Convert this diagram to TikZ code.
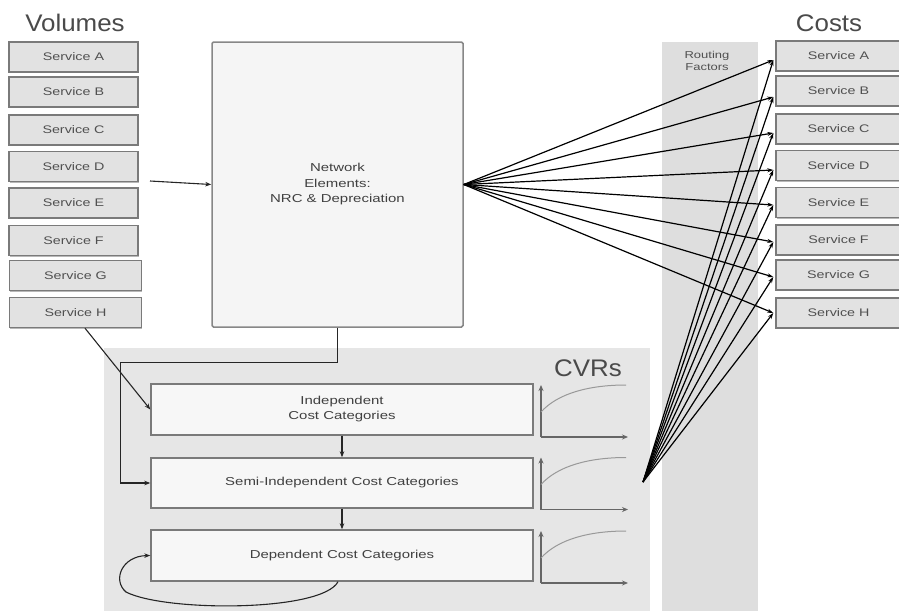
\documentclass[tikz,border=0pt]{standalone}
\usepackage{fontspec}
\usetikzlibrary{arrows.meta,shadows}
\setmainfont{Liberation Sans}
\newfontfamily\labfont[FakeStretch=1.3]{Liberation Sans}
\newfontfamily\titfont[FakeStretch=1.08]{Liberation Sans}
\definecolor{boxgray}{HTML}{E2E2E2}
\definecolor{edgegray}{HTML}{7A7A7A}
\definecolor{panelgray}{HTML}{E6E6E6}
\definecolor{colgray}{HTML}{DEDEDE}
\definecolor{txtgray}{HTML}{505050}
\definecolor{titgray}{HTML}{4A4A4A}
\begin{document}
\begin{tikzpicture}[x=1pt,y=-1pt,
  svc/.style={draw=edgegray,line width=1.4pt,fill=boxgray,minimum height=30pt,
    inner sep=0pt,text=txtgray,font=\labfont\fontsize{11}{13}\selectfont,
    drop shadow={shadow xshift=0.8pt,shadow yshift=-1.2pt,fill=gray!70,opacity=0.8}},
  catbox/.style={draw=edgegray,line width=1.4pt,fill=white!97!black,minimum width=382pt,
    inner sep=0pt,text=black!75,align=center,font=\labfont\fontsize{11.5}{15}\selectfont},
  title/.style={font=\titfont\fontsize{24}{26}\selectfont,text=titgray,inner sep=0pt},
  conn/.style={line width=1.1pt,draw=black!85,-{Stealth[length=6pt,width=4.5pt]}},
  fan/.style={line width=1.2pt,draw=black,-{Stealth[length=6pt,width=4pt]}},
  axis/.style={line width=1.4pt,draw=black!60,-{Stealth[length=6pt,width=5pt]}},
  growth/.style={line width=1pt,draw=black!40}]
\useasboundingbox (0,0) rectangle (899,611);

% shaded panels
\fill[colgray] (662,42) rectangle (758,611);
\fill[panelgray] (104,348) rectangle (650,611);

% titles
\node[title] (tvol) at (75,23) {Volumes};
\node[title] (tcost) at (829,23) {Costs};
\node[title] (tcvr) at (588,368) {CVRs};
\node[align=center,text=txtgray,inner sep=0pt,
  font=\labfont\fontsize{10}{12.5}\selectfont] (rf) at (707,61) {Routing\\Factors};

% volume services
\foreach \n/\y in {A/57,B/92,C/130,D/166.5,E/203,F/240.5}
  \node[svc,minimum width=129pt] (v\n) at (73.5,\y) {Service \n};
\foreach \n/\y in {G/275.5,H/312.5}
  \node[svc,minimum width=132pt] (v\n) at (75.5,\y) {Service \n};

% cost services
\foreach \n/\y in {A/56,B/91,C/129,D/165.5,E/202.5,F/240,G/275,H/313}
  \node[svc,minimum width=125pt] (c\n) at (838.5,\y) {Service \n};

% network elements
\node[draw=edgegray!90,line width=1.5pt,fill=white!96!black,rounded corners=1.5pt,
  minimum width=251pt,minimum height=285pt,inner sep=0pt,align=center,text=black!75,
  font=\labfont\fontsize{11.5}{15.5}\selectfont] (net) at (337.5,184.5)
  {Network\\Elements:\\NRC \& Depreciation};

% cost categories
\node[catbox,minimum height=51pt] (ind) at (342,409.5) {Independent\\Cost Categories};
\node[catbox,minimum height=50pt] (semi) at (342,483) {Semi-Independent Cost Categories};
\node[catbox,minimum height=51pt] (dep) at (342,555.5) {Dependent Cost Categories};

% volume-to-cost curves beside each category
\foreach \b in {437,509.5,583}{
  \draw[axis] (541,\b) -- (541,\b-52);
  \draw[axis] (541,\b) -- (628,\b);
  \draw[growth] (541,\b-25) .. controls (558,\b-44) and (590,\b-52) .. (626,\b-52);
}

% flows
\coordinate (vin) at (150,181);
\draw[conn] (vin) -- (net.west);
\draw[conn] ([xshift=9.5pt]vH.south) -- (ind.west);
\draw[conn] (net.south) -- ++(0,35) -| ([xshift=-30pt]semi.west) -- (semi.west);
\draw[conn] (ind.south) -- (semi.north);
\draw[conn] (semi.south) -- (dep.north);
\draw[conn] ([xshift=-4pt]dep.south) .. controls (322,612) and (165,612) .. (126,592)
  .. controls (112,580) and (122,556) .. (dep.west);

% routing of element costs to services
\coordinate (hub) at (643,482);
\foreach \n/\s in {A/4,B/6,C/4,D/4.5,E/2.5,F/2,G/2,H/0}{
  \draw[fan] (net.east) -- ([xshift=-2pt,yshift=-\s pt]c\n.west);
  \draw[fan] (hub) -- ([xshift=-2pt,yshift=-\s pt]c\n.west);
}
\end{tikzpicture}
\end{document}
